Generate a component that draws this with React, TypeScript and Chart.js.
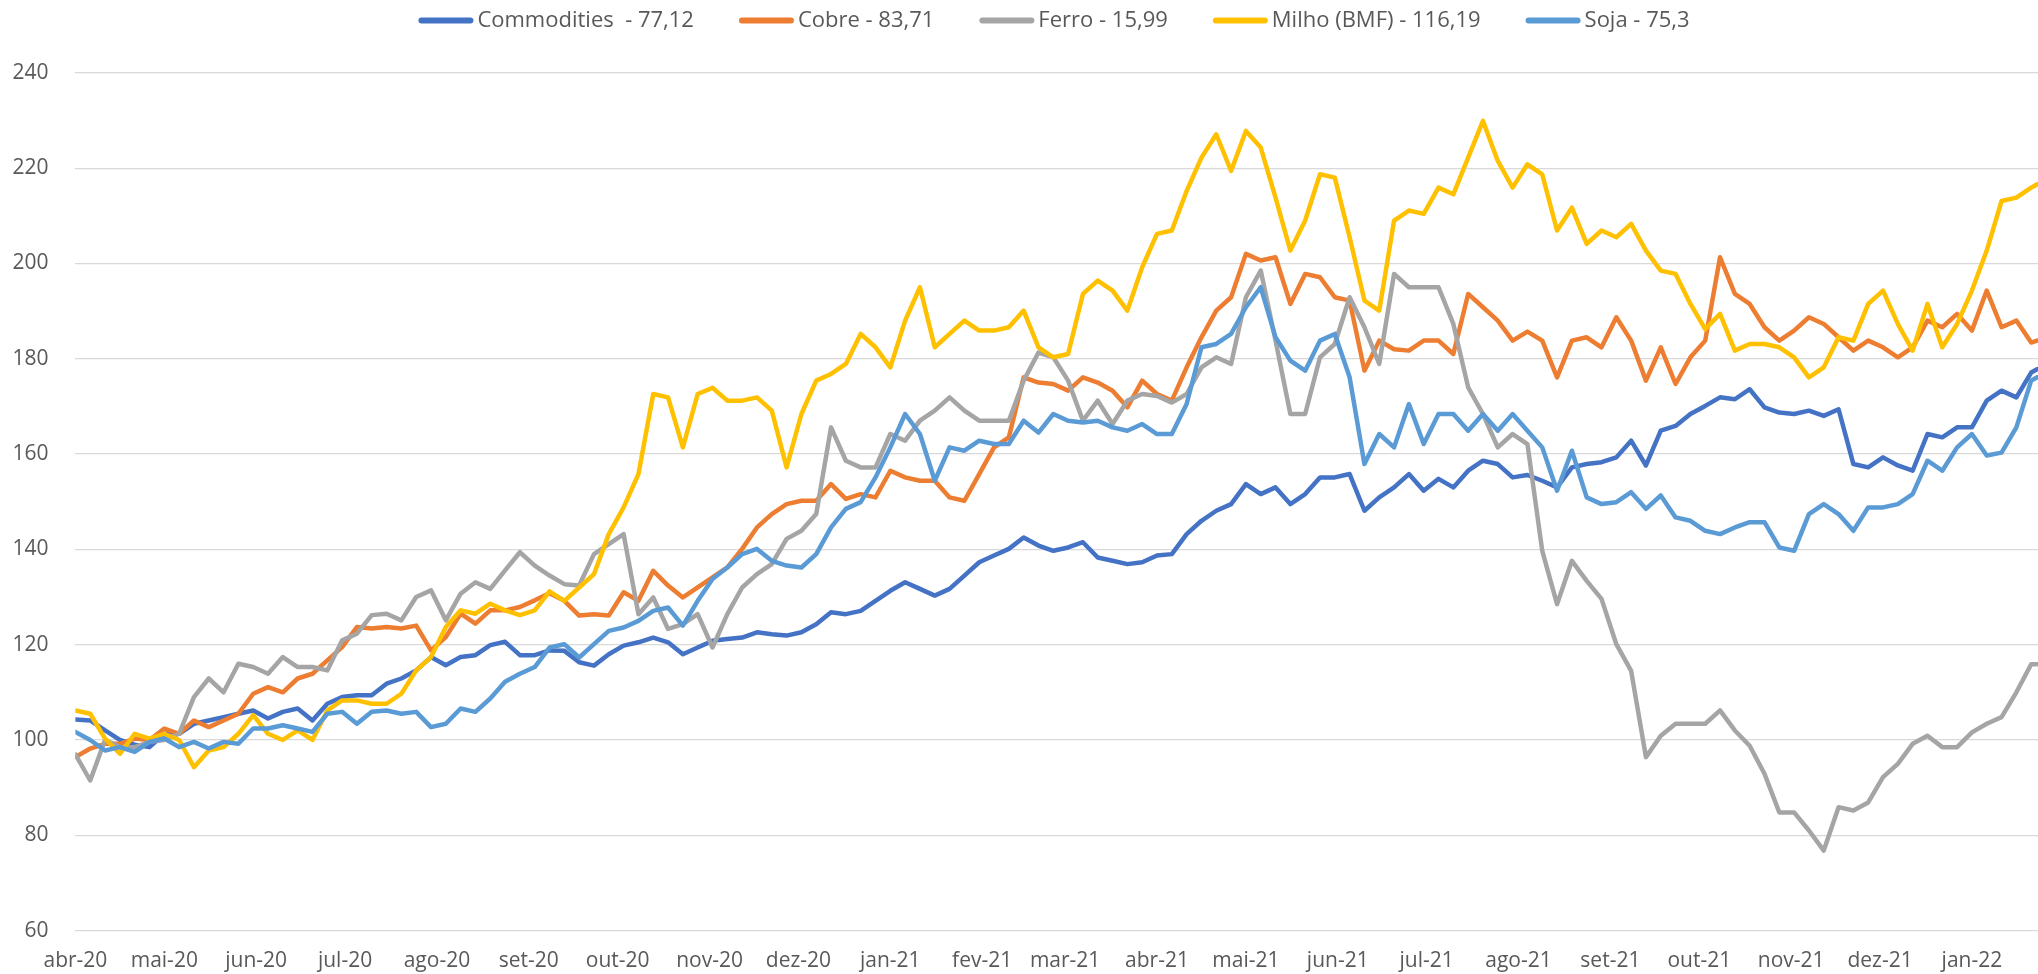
import React, { useEffect, useRef } from "react";
import { Chart, registerables } from "chart.js";

Chart.register(...registerables);

// x positions: days since 2020-04-01
const days = [
  0, 5, 10, 15, 20, 25, 30, 35, 40, 45,
  50, 55, 60, 65, 70, 75, 80, 85, 90, 95,
  100, 105, 110, 115, 120, 125, 130, 135, 140, 145,
  150, 155, 160, 165, 170, 175, 180, 185, 190, 195,
  200, 205, 210, 215, 220, 225, 230, 235, 240, 245,
  250, 255, 260, 265, 270, 275, 280, 285, 290, 295,
  300, 305, 310, 315, 320, 325, 330, 335, 340, 345,
  350, 355, 360, 365, 370, 375, 380, 385, 390, 395,
  400, 405, 410, 415, 420, 425, 430, 435, 440, 445,
  450, 455, 460, 465, 470, 475, 480, 485, 490, 495,
  500, 505, 510, 515, 520, 525, 530, 535, 540, 545,
  550, 555, 560, 565, 570, 575, 580, 585, 590, 595,
  600, 605, 610, 615, 620, 625, 630, 635, 640, 645,
  650, 655, 660, 662,
];

const commodities = [
  104.3, 104.1, 102, 100, 99, 98.5, 101.3, 101.3, 103.4, 104.1,
  104.8, 105.5, 106.2, 104.5, 105.9, 106.6, 104.1, 107.6, 109, 109.4,
  109.4, 111.8, 112.9, 114.6, 117.4, 115.7, 117.4, 117.8, 119.9, 120.6,
  117.8, 117.8, 118.8, 118.7, 116.3, 115.6, 118, 119.8, 120.5, 121.5,
  120.5, 118, 119.4, 120.8, 121.2, 121.5, 122.6, 122.2, 121.9, 122.6,
  124.3, 126.8, 126.4, 127.1, 129.2, 131.3, 133.1, 131.7, 130.3, 131.7,
  134.5, 137.3, 138.7, 140.1, 142.5, 140.8, 139.7, 140.4, 141.5, 138.3,
  137.6, 136.9, 137.3, 138.7, 139, 143.2, 146, 148.1, 149.5, 153.7,
  151.6, 153, 149.5, 151.6, 155.1, 155.1, 155.8, 148.1, 150.9, 153,
  155.8, 152.3, 154.8, 153, 156.5, 158.6, 157.9, 155.1, 155.6, 154.4,
  153, 157.2, 157.9, 158.3, 159.3, 162.8, 157.6, 164.9, 165.9, 168.4,
  170.1, 171.9, 171.5, 173.6, 169.8, 168.7, 168.4, 169.1, 168, 169.4,
  157.9, 157.2, 159.3, 157.6, 156.5, 164.2, 163.5, 165.6, 165.6, 171.2,
  173.3, 171.9, 177.1, 177.8,
];

const cobre = [
  96.4, 98.2, 99.2, 99.2, 100.3, 100, 102.4, 101.3, 104.1, 102.7,
  104.1, 105.5, 109.7, 111.1, 110, 112.9, 113.9, 116.7, 119.5, 123.7,
  123.4, 123.7, 123.4, 124, 118.8, 121.6, 126.5, 124.4, 127.2, 127.2,
  127.9, 129.3, 130.8, 129.2, 126.1, 126.4, 126.1, 131, 129.2, 135.5,
  132.4, 129.9, 132, 134.1, 136.2, 140.1, 144.6, 147.4, 149.5, 150.2,
  150.2, 153.7, 150.6, 151.6, 150.9, 156.5, 155.1, 154.4, 154.4, 150.9,
  150.2, 155.8, 161.4, 163.5, 176.1, 175, 174.7, 173.3, 176.1, 175,
  173.3, 169.8, 175.4, 172.6, 171.2, 178.2, 184.5, 190.1, 192.9, 202,
  200.6, 201.3, 191.5, 197.8, 197.1, 192.9, 192.2, 177.5, 183.8, 182,
  181.7, 183.8, 183.8, 181, 193.6, 190.8, 188, 183.8, 185.7, 183.8,
  176.1, 183.8, 184.5, 182.4, 188.7, 183.8, 175.4, 182.4, 174.7, 180.3,
  183.8, 201.3, 193.6, 191.5, 186.6, 183.8, 185.9, 188.7, 187.3, 184.5,
  181.7, 183.8, 182.4, 180.3, 182.4, 188, 186.6, 189.4, 185.9, 194.3,
  186.6, 188, 183.4, 183.8,
];

const ferro = [
  97, 91.5, 100, 98.5, 98.5, 99.6, 100, 101.3, 109, 112.9,
  110, 116, 115.3, 113.9, 117.4, 115.3, 115.3, 114.6, 120.9, 122.3,
  126.2, 126.5, 125.1, 130, 131.4, 125.1, 130.7, 133.1, 131.7, 135.6,
  139.4, 136.6, 134.5, 132.7, 132.4, 139, 141.1, 143.2, 126.4, 129.9,
  123.3, 124.3, 126.4, 119.4, 126.4, 132, 134.8, 136.9, 142.2, 143.9,
  147.4, 165.6, 158.6, 157.2, 157.2, 164.2, 162.8, 167, 169.1, 171.9,
  169.1, 167, 167, 167, 175.4, 181.3, 180.3, 175.4, 167, 171.2,
  166.3, 171.2, 172.6, 172.2, 170.8, 172.6, 178.2, 180.3, 178.9, 192.9,
  198.5, 183.8, 168.4, 168.4, 180.3, 183.1, 192.9, 186.6, 178.9, 197.8,
  195, 195, 195, 187.3, 174, 168.4, 161.4, 164.2, 162.1, 139.7,
  128.5, 137.6, 133.4, 129.6, 120.1, 114.5, 96.4, 100.9, 103.4, 103.4,
  103.4, 106.2, 102, 98.8, 92.9, 84.8, 84.8, 81, 76.8, 85.9,
  85.2, 86.9, 92.2, 95, 99.2, 100.9, 98.5, 98.5, 101.6, 103.4,
  104.8, 110, 115.9, 115.9,
];

const milho = [
  106.2, 105.5, 100.3, 97.1, 101.3, 100.3, 101.3, 100, 94.3, 97.8,
  98.5, 101.3, 105.2, 101.3, 100, 102, 100, 106.2, 108.3, 108.3,
  107.6, 107.6, 109.7, 114.6, 117.4, 123.7, 127.2, 126.5, 128.6, 127.2,
  126.2, 127.2, 131.2, 129.2, 132, 134.8, 143.2, 148.8, 155.8, 172.6,
  171.9, 161.4, 172.6, 173.9, 171.2, 171.2, 171.9, 169.1, 157.2, 168.4,
  175.4, 176.8, 178.9, 185.2, 182.4, 178.2, 188, 195, 182.4, 185.2,
  188, 185.9, 185.9, 186.6, 190.1, 182.4, 180.3, 181, 193.6, 196.4,
  194.3, 190.1, 199.2, 206.2, 206.9, 215.2, 222.2, 227.1, 219.4, 227.8,
  224.3, 213.8, 202.7, 209, 218.7, 218, 205.5, 192.2, 190.1, 209,
  211.1, 210.4, 215.9, 214.5, 222.2, 229.9, 221.5, 215.9, 220.8, 218.7,
  206.9, 211.7, 204.1, 206.9, 205.5, 208.3, 202.7, 198.5, 197.8, 191.5,
  186.2, 189.4, 181.7, 183.1, 183.1, 182.4, 180.3, 176.1, 178.2, 184.5,
  183.8, 191.5, 194.3, 187.3, 181.7, 191.5, 182.4, 187.3, 194.3, 202.7,
  213.1, 213.8, 215.9, 216.6,
];

const soja = [
  101.7, 100, 97.8, 98.5, 97.5, 99.6, 100.3, 98.5, 99.6, 98.2,
  99.6, 99.2, 102.4, 102.4, 103.1, 102.4, 101.7, 105.5, 105.9, 103.4,
  105.9, 106.2, 105.5, 105.9, 102.7, 103.4, 106.6, 105.9, 108.7, 112.2,
  113.9, 115.3, 119.4, 120.1, 117.3, 120.1, 122.9, 123.6, 125, 127.1,
  127.8, 124, 129.2, 133.8, 136.2, 139, 140.1, 137.6, 136.6, 136.2,
  139, 144.6, 148.5, 149.9, 155.1, 161.4, 168.4, 164.2, 154.4, 161.4,
  160.7, 162.8, 162.1, 162.1, 167, 164.5, 168.4, 167, 166.6, 167,
  165.6, 164.9, 166.3, 164.2, 164.2, 170.5, 182.4, 183.1, 185.2, 190.8,
  195, 184.5, 179.6, 177.5, 183.8, 185.2, 176.1, 157.9, 164.2, 161.4,
  170.5, 162.1, 168.4, 168.4, 164.9, 168.4, 164.9, 168.4, 164.9, 161.4,
  152.3, 160.7, 150.9, 149.5, 149.9, 152, 148.5, 151.3, 146.7, 146,
  143.9, 143.2, 144.6, 145.7, 145.7, 140.4, 139.7, 147.4, 149.5, 147.4,
  143.9, 148.8, 148.8, 149.5, 151.6, 158.6, 156.5, 161.4, 164.2, 159.7,
  160.3, 165.6, 175.4, 176.1,
];

// month-start positions (days since 2020-04-01) and their labels
const monthDays = [0, 30, 61, 91, 122, 153, 183, 214, 244, 275, 306, 334, 365, 395, 426, 456, 487, 518, 548, 579, 609, 640];
const monthLabels = [
  "abr-20", "mai-20", "jun-20", "jul-20", "ago-20", "set-20", "out-20", "nov-20", "dez-20",
  "jan-21", "fev-21", "mar-21", "abr-21", "mai-21", "jun-21", "jul-21", "ago-21", "set-21",
  "out-21", "nov-21", "dez-21", "jan-22",
];
const yTicks = [60, 80, 100, 120, 140, 160, 180, 200, 220, 240];

const seriesNames = ["Commodities  - 77,12", "Cobre - 83,71", "Ferro - 15,99", "Milho (BMF) - 116,19", "Soja - 75,3"];
const seriesColors = ["#4472C4", "#ED7D31", "#A5A5A5", "#FFC000", "#5B9BD5"];
const seriesValues = [commodities, cobre, ferro, milho, soja];

const FONT = "'Open Sans', Lato, 'Liberation Sans', sans-serif";
const FONT_SIZE = 21;
const LEGEND_FONT_SIZE = 22;
const TEXT_COLOR = "#595959";

const lineLegend = {
  id: "lineLegend",
  afterDraw(chart: any) {
    const ctx = chart.ctx as CanvasRenderingContext2D;
    ctx.save();
    ctx.font = `${LEGEND_FONT_SIZE}px ${FONT}`;
    ctx.textBaseline = "middle";
    ctx.textAlign = "left";
    const lineW = 55;
    const textGap = 4;
    const itemGap = 45;
    const items = chart.data.datasets.map((ds: any) => ({
      text: ds.label,
      color: ds.borderColor,
      w: ctx.measureText(ds.label).width,
    }));
    const total =
      items.reduce((s: number, it: any) => s + lineW + textGap + it.w, 0) + itemGap * (items.length - 1);
    let x = chart.width / 2 - total / 2 + 35;
    const y = 20.5;
    for (const it of items) {
      ctx.strokeStyle = it.color;
      ctx.lineWidth = 6;
      ctx.lineCap = "round";
      ctx.beginPath();
      ctx.moveTo(x + 3, y);
      ctx.lineTo(x + lineW - 3, y);
      ctx.stroke();
      ctx.fillStyle = TEXT_COLOR;
      ctx.fillText(it.text, x + lineW + textGap, y);
      x += lineW + textGap + it.w + itemGap;
    }
    ctx.restore();
  },
};

export default function App() {
  const canvasRef = useRef<HTMLCanvasElement | null>(null);

  useEffect(() => {
    document.body.style.margin = "0";
    const canvas = canvasRef.current;
    if (!canvas) return;
    const datasets = seriesValues.map((vals, i) => ({
      label: seriesNames[i],
      data: days.map((d, j) => ({ x: d, y: vals[j] })),
      borderColor: seriesColors[i],
      backgroundColor: seriesColors[i],
      borderWidth: 4.5,
      pointRadius: 0,
      pointHoverRadius: 0,
      tension: 0,
      fill: false,
      borderJoinStyle: "round" as const,
      borderCapStyle: "round" as const,
      order: seriesValues.length - 1 - i,
    }));
    const chart = new Chart(canvas, {
      type: "line",
      data: { datasets },
      plugins: [lineLegend],
      options: {
        animation: false,
        responsive: false,
        devicePixelRatio: 1,
        layout: { padding: { top: 72.8, left: 0, right: 0, bottom: 0 } },
        plugins: {
          legend: { display: false },
          tooltip: { enabled: false },
        },
        scales: {
          x: {
            type: "linear",
            min: 0,
            max: 662.3,
            grid: { display: false, drawTicks: false },
            border: { display: false },
            afterBuildTicks: (scale: any) => {
              scale.ticks = monthDays.map((v) => ({ value: v }));
            },
            afterFit: (scale: any) => {
              scale.height = 43.4;
            },
            ticks: {
              autoSkip: false,
              maxRotation: 0,
              minRotation: 0,
              padding: 17.5,
              color: TEXT_COLOR,
              font: { family: FONT, size: FONT_SIZE },
              callback: (v: any) => {
                const k = monthDays.indexOf(Number(v));
                return k >= 0 ? monthLabels[k] : "";
              },
            },
          },
          y: {
            min: 60,
            max: 240,
            grid: { color: "#D9D9D9", lineWidth: 1.2, drawTicks: false },
            border: { display: false },
            afterBuildTicks: (scale: any) => {
              scale.ticks = yTicks.map((v) => ({ value: v }));
            },
            afterFit: (scale: any) => {
              scale.width = 75.4;
            },
            ticks: {
              padding: 27,
              color: TEXT_COLOR,
              font: { family: FONT, size: FONT_SIZE },
            },
          },
        },
      },
    });
    return () => chart.destroy();
  }, []);

  return (
    <div style={{ width: 2038, height: 974, background: "#fff" }}>
      <canvas ref={canvasRef} width={2038} height={974} style={{ display: "block" }} />
    </div>
  );
}
